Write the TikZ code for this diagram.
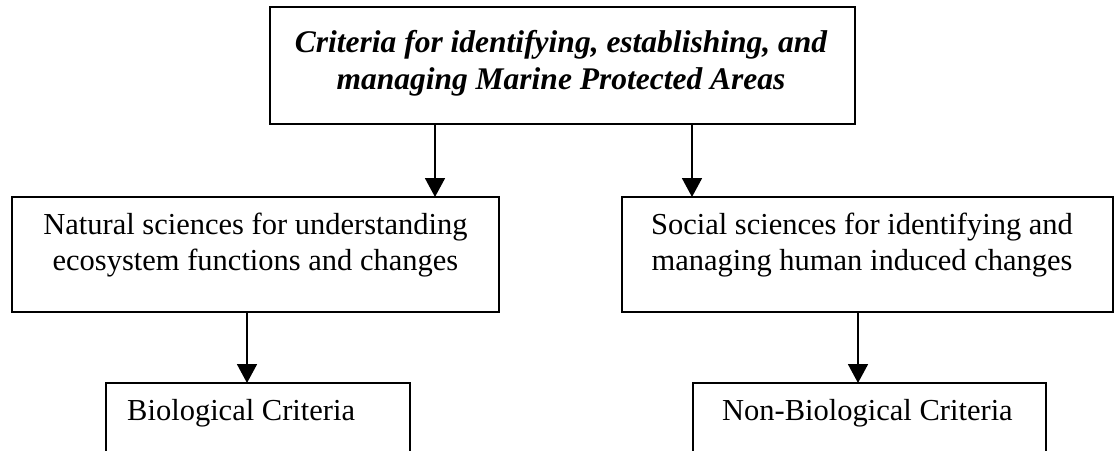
\documentclass[tikz,border=0pt]{standalone}
\usepackage{fontspec}
\setmainfont{Liberation Serif}
\usetikzlibrary{arrows.meta}
\begin{document}
\begin{tikzpicture}[x=1pt,y=-1pt,
  box/.style={draw, line width=1.8pt, anchor=north west, inner sep=0pt, outer sep=0pt},
  lbl/.style={font=\fontsize{30.5}{36}\selectfont, align=center, anchor=north, inner sep=0pt},
  arr/.style={line width=1.8pt, -{Triangle[width=20pt,length=19pt]}}]
\clip (0,0) rectangle (1114,450);
% boxes
\node[box, minimum width=585pt, minimum height=117pt] (top) at (270,7) {};
\node[box, minimum width=487pt, minimum height=115pt] (nat) at (12,197) {};
\node[box, minimum width=491pt, minimum height=115pt] (soc) at (622,197) {};
\node[box, minimum width=304pt, minimum height=120pt] (bio) at (106,383) {};
\node[box, minimum width=353pt, minimum height=120pt] (nonbio) at (693,383) {};
% texts
\node[lbl, font=\fontsize{31.5}{37}\selectfont\bfseries\itshape] (toptext) at (561,30)
  {Criteria for identifying, establishing, and\\managing Marine Protected Areas};
\node[lbl] (nattext) at (255.5,213) {Natural sciences for understanding\\ecosystem functions and changes};
\node[lbl] (soctext) at (862,213) {Social sciences for identifying and\\managing human induced changes};
\node[lbl, anchor=base west] (biotext) at (127,420) {Biological Criteria};
\node[lbl, anchor=base west] (nonbiotext) at (722,420) {Non-Biological Criteria};
% connectors
\coordinate (c1) at (435,0);
\coordinate (c2) at (692,0);
\coordinate (c3) at (247,0);
\coordinate (c4) at (858,0);
\draw[arr] (top.south -| c1) -- (nat.north -| c1);
\draw[arr] (top.south -| c2) -- (soc.north -| c2);
\draw[arr] (nat.south -| c3) -- (bio.north -| c3);
\draw[arr] (soc.south -| c4) -- (nonbio.north -| c4);
\end{tikzpicture}
\end{document}
